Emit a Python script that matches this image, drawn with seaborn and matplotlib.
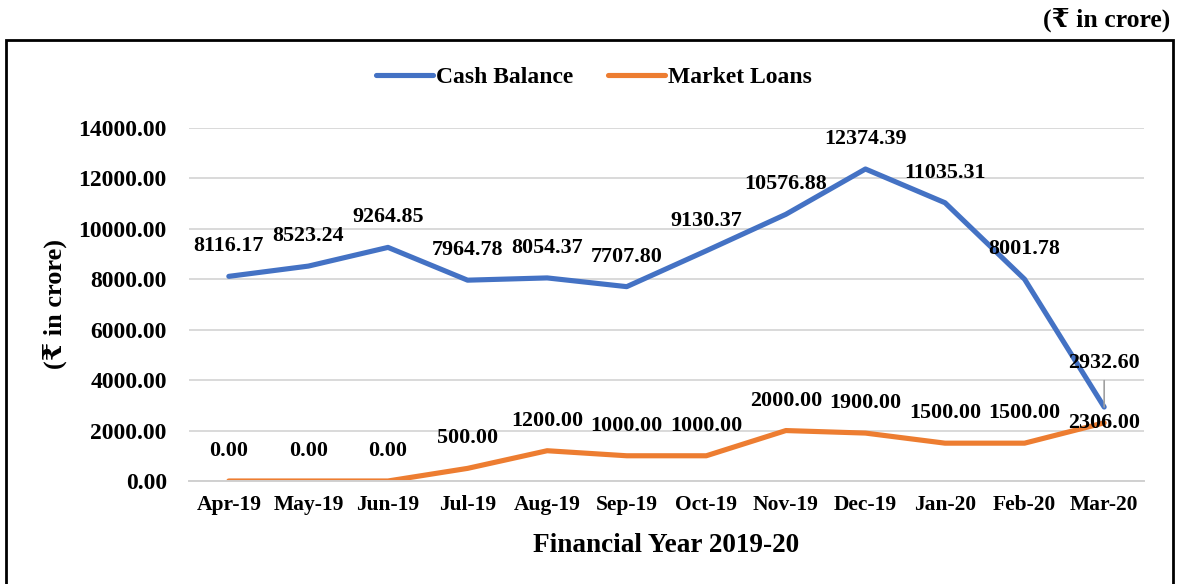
import numpy as np
import pandas as pd
import matplotlib
matplotlib.use("Agg")
import matplotlib.pyplot as plt
from matplotlib.patches import Rectangle
from matplotlib.lines import Line2D
import seaborn as sns

# Monthly data, financial year 2019-20 (₹ in crore)
months = ["Apr-19", "May-19", "Jun-19", "Jul-19", "Aug-19", "Sep-19",
          "Oct-19", "Nov-19", "Dec-19", "Jan-20", "Feb-20", "Mar-20"]
cash_balance = [8116.17, 8523.24, 9264.85, 7964.78, 8054.37, 7707.80,
                9130.37, 10576.88, 12374.39, 11035.31, 8001.78, 2932.60]
market_loans = [0.00, 0.00, 0.00, 500.00, 1200.00, 1000.00,
                1000.00, 2000.00, 1900.00, 1500.00, 1500.00, 2306.00]
series_names = ["Cash Balance", "Market Loans"]
y_ticks = [0, 2000, 4000, 6000, 8000, 10000, 12000, 14000]

sns.set_style("white")
plt.rcParams["font.family"] = ["Liberation Serif", "DejaVu Serif", "DejaVu Sans"]
plt.rcParams["font.weight"] = "bold"
plt.rcParams["text.color"] = "black"
plt.rcParams["axes.labelcolor"] = "black"
plt.rcParams["xtick.labelcolor"] = "black"
plt.rcParams["ytick.labelcolor"] = "black"

colors = {"Cash Balance": "#4472C4", "Market Loans": "#ED7D31"}

pos = np.arange(len(months))
df = pd.concat([
    pd.DataFrame({"pos": pos, "value": cash_balance, "series": series_names[0]}),
    pd.DataFrame({"pos": pos, "value": market_loans, "series": series_names[1]}),
], ignore_index=True)

fig = plt.figure(figsize=(11.83, 5.84), dpi=100)
ax = fig.add_axes([0.1598, 0.1764, 0.8072, 0.6044])

sns.lineplot(data=df, x="pos", y="value", hue="series", palette=colors,
             linewidth=3.7, ax=ax, legend=False, sort=False)
for line in ax.lines:
    line.set_solid_capstyle("round")
    line.set_solid_joinstyle("round")

ax.set_xlim(-0.5, len(months) - 0.5)
ax.set_ylim(y_ticks[0], y_ticks[-1])
ax.set_yticks(y_ticks)
ax.set_yticklabels([f"{v:.2f}" for v in y_ticks], fontsize=17, fontweight="bold")
ax.set_xticks(pos)
ax.set_xticklabels(months, fontsize=15.5, fontweight="bold")
ax.set_xticks(np.arange(-0.5, len(months), 1.0), minor=True)
ax.tick_params(axis="x", which="major", length=0, pad=10)
ax.tick_params(axis="x", which="minor", length=4, width=1.3, color="#D0D0D0", direction="out")
ax.tick_params(axis="y", length=0, pad=16)

ax.grid(axis="y", color="#D9D9D9", linewidth=1.4)
ax.set_axisbelow(True)
for side in ["top", "right", "left"]:
    ax.spines[side].set_visible(False)
ax.spines["bottom"].set_color("#D0D0D0")
ax.spines["bottom"].set_linewidth(1.4)

ax.set_xlabel("Financial Year 2019-20", fontsize=19.6, fontweight="bold", labelpad=13)
ax.set_ylabel("(₹ in crore)", fontsize=19, fontweight="bold", labelpad=8)

# Value labels above each point
label_fs = 15.8
base_off = 21.6
for i, v in enumerate(cash_balance):
    if i == len(months) - 1:
        ax.annotate(f"{v:.2f}", xy=(pos[i], v), xytext=(0, base_off + 10),
                    textcoords="offset points", ha="center", va="center",
                    fontsize=label_fs, fontweight="bold",
                    arrowprops=dict(arrowstyle="-", color="#A0A0A0", lw=1.2,
                                    relpos=(0.5, 0.0), shrinkA=3, shrinkB=0))
    else:
        ax.annotate(f"{v:.2f}", xy=(pos[i], v), xytext=(0, base_off),
                    textcoords="offset points", ha="center", va="center",
                    fontsize=label_fs, fontweight="bold")
for i, v in enumerate(market_loans):
    off = 0 if i == len(months) - 1 else base_off
    ax.annotate(f"{v:.2f}", xy=(pos[i], v), xytext=(0, off),
                textcoords="offset points", ha="center", va="center",
                fontsize=label_fs, fontweight="bold")

# Legend
handles = [Line2D([], [], color=colors[n], linewidth=3.7, solid_capstyle="round")
           for n in series_names]
fig.legend(handles, series_names, loc="center", bbox_to_anchor=(0.502, 0.868),
           ncol=2, frameon=False, handlelength=2.4, handletextpad=0.12,
           columnspacing=1.5, prop={"size": 17, "weight": "bold"})

# Outer frame and unit note
fig.add_artist(Rectangle((6 / 1183, -0.05), 1167 / 1183, 1.05 - 40 / 584,
                         transform=fig.transFigure, fill=False,
                         edgecolor="black", linewidth=2))
fig.text(1170 / 1183, 1 - 20 / 584, "(₹ in crore)", ha="right", va="center",
         fontsize=18.5, fontweight="bold")

fig.savefig("out.png", dpi=100)
